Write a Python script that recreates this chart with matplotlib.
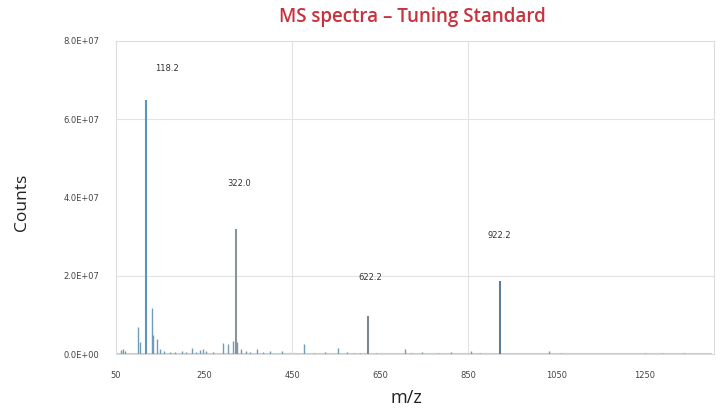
import matplotlib
matplotlib.use("Agg")
import matplotlib.pyplot as plt
import numpy as np

# main labelled peaks (m/z, counts)
main_mz = [118.2, 322.0, 622.2, 922.2]
main_counts = [6.5e7, 3.2e7, 9.7e6, 1.86e7]
main_labels = ["118.2", "322.0", "622.2", "922.2"]

# minor peaks
minor_mz = [62, 66, 71, 100.7, 104.5, 131, 134, 144, 150, 160, 172, 185, 200,
            210, 222, 232, 240, 248, 255, 270, 293, 305, 316, 325, 333, 345,
            355, 370, 385, 400, 426, 476, 500, 525, 555, 575, 590, 605, 640,
            707, 720, 745, 780, 810, 855, 877, 1032, 1060, 1250, 1290, 1340]
minor_counts = [1.0e6, 1.3e6, 0.8e6, 6.9e6, 3.0e6, 1.17e7, 4.8e6, 3.8e6, 1.2e6,
                0.7e6, 0.6e6, 0.5e6, 0.8e6, 0.6e6, 1.5e6, 0.6e6, 1.0e6, 1.2e6,
                0.8e6, 0.6e6, 2.9e6, 2.5e6, 3.4e6, 3.0e6, 1.2e6, 0.8e6, 0.6e6,
                1.2e6, 0.6e6, 0.7e6, 0.8e6, 2.7e6, 0.4e6, 0.5e6, 1.5e6, 0.5e6,
                0.4e6, 0.4e6, 0.3e6, 1.3e6, 0.4e6, 0.5e6, 0.4e6, 0.5e6, 0.8e6,
                0.4e6, 0.8e6, 0.2e6, 0.2e6, 0.2e6, 0.2e6]

x_ticks = [50, 250, 450, 650, 850, 1050, 1250]
y_ticks = [0, 2e7, 4e7, 6e7, 8e7]
y_ticklabels = ["0.0E+00", "2.0E+07", "4.0E+07", "6.0E+07", "8.0E+07"]

fig = plt.figure(figsize=(7.24, 4.08), dpi=100)
ax = fig.add_axes([0.160, 0.132, 0.826, 0.768])

# gridlines as in the source (only some of them show)
for gx in [450, 850]:
    ax.axvline(gx, color="#e3e3e3", lw=0.8, zorder=0)
for gy in [2e7, 6e7]:
    ax.axhline(gy, color="#e3e3e3", lw=0.8, zorder=0)

ax.plot([50, 1400], [0, 0], color="#a8dccb", lw=1.5, zorder=1)
ax.vlines(minor_mz, 0, minor_counts, color="#6f9cb8", lw=1.0, zorder=2)
ax.vlines(main_mz, 0, main_counts, color=["#5c95bb", "#8a949c", "#7d8790", "#5d7f99"],
          lw=1.5, zorder=3)

label_y = [7.3e7, 4.35e7, 1.95e7, 3.03e7]
label_dx = [48, 8, 5, -2]
for mz, ly, dx, lab in zip(main_mz, label_y, label_dx, main_labels):
    ax.text(mz + dx, ly, lab, fontsize=6, ha="center", va="center", color="#333333")

ax.set_xlim(50, 1407)
ax.set_ylim(0, 8e7)
ax.set_xticks(x_ticks)
ax.set_xticklabels([str(t) for t in x_ticks], fontsize=6, color="#444444")
ax.set_yticks(y_ticks)
ax.set_yticklabels(y_ticklabels, fontsize=6, color="#444444")
ax.tick_params(length=0, pad=12)
for s in ax.spines.values():
    s.set_color("#dcdcdc")
    s.set_linewidth(0.8)

fig.text(0.569, 0.958, "MS spectra \u2013 Tuning Standard", fontsize=13.5,
         color="#c8323c", ha="center", va="center", family="Open Sans", weight="semibold")
fig.text(0.030, 0.505, "Counts", fontsize=12.5, rotation=90, ha="center", va="center",
         family="Open Sans", color="#222222")
fig.text(0.561, 0.025, "m/z", fontsize=13, ha="center", va="center",
         family="Open Sans", color="#222222")

fig.savefig("out.png", dpi=100)
